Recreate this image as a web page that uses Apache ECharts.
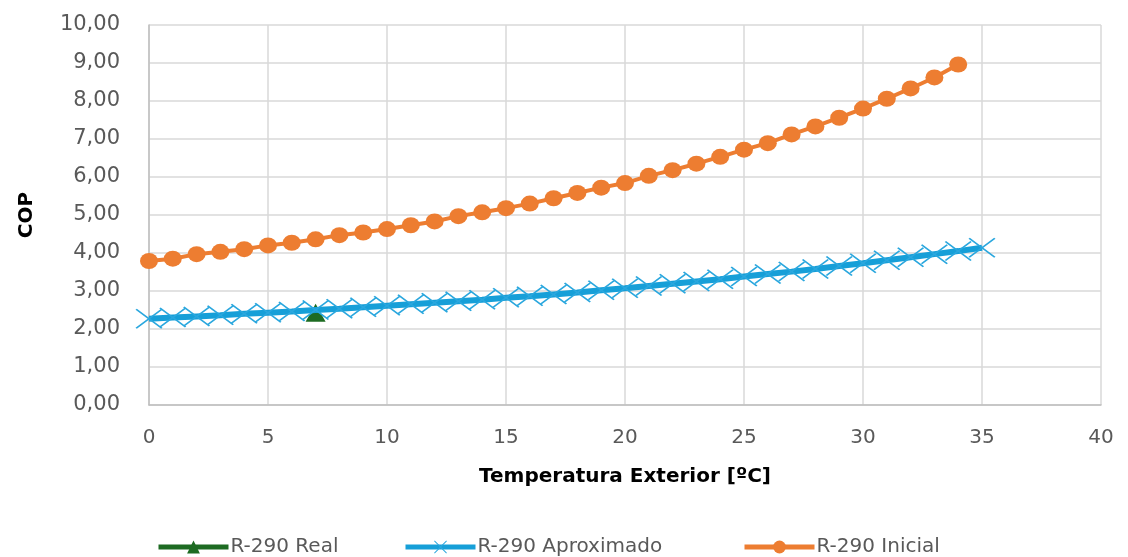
<!DOCTYPE html>
<html>
<head>
<meta charset="utf-8">
<script src="https://cdn.jsdelivr.net/npm/echarts@6/dist/echarts.min.js"></script>
<style>html,body{margin:0;padding:0;background:#fff}#c{width:1128px;height:557px}</style>
</head>
<body>
<div id="c"></div>
<script>
// ---- data ----
var tempReal = [7];
var copReal = [2.43];

var tempAprox = [0,1,2,3,4,5,6,7,8,9,10,11,12,13,14,15,16,17,18,19,20,21,22,23,24,25,26,27,28,29,30,31,32,33,34,35];
var copAprox = [2.27,2.30,2.33,2.36,2.40,2.43,2.46,2.50,2.53,2.57,2.61,2.65,2.69,2.73,2.77,2.82,2.86,2.91,2.96,3.02,3.07,3.13,3.19,3.25,3.31,3.38,3.45,3.51,3.58,3.66,3.73,3.81,3.89,3.97,4.05,4.14];

var tempInicial = [0,1,2,3,4,5,6,7,8,9,10,11,12,13,14,15,16,17,18,19,20,21,22,23,24,25,26,27,28,29,30,31,32,33,34];
var copInicial = [3.79,3.85,3.97,4.03,4.10,4.20,4.27,4.36,4.47,4.54,4.63,4.73,4.83,4.97,5.07,5.18,5.30,5.44,5.58,5.72,5.84,6.03,6.18,6.35,6.53,6.72,6.89,7.12,7.33,7.56,7.80,8.06,8.33,8.62,8.96];

var seriesNames = ['R-290 Real', 'R-290 Aproximado', 'R-290 Inicial'];
var xTitle = 'Temperatura Exterior [ºC]';
var yTitle = 'COP';

function pairs(xs, ys){ return xs.map(function(x,i){ return [x, ys[i]]; }); }

var crossPath = 'path://M0,5 L5,0 L50,45 L95,0 L100,5 L55,50 L100,95 L95,100 L50,55 L5,100 L0,95 L45,50 Z';
var FONT = 'DejaVu Sans';
var GREEN = '#1d6b22', BLUE = '#169fd8', ORANGE = '#ed7d31';

function legendAt(name, left){
  return {
    data:[name], left:left, top:537, padding:0, itemWidth:70, itemHeight:16, itemGap:10,
    lineStyle:{width:5},
    textStyle:{fontFamily:FONT, fontSize:20, color:'#595959', padding:[0,0,0,-3]}
  };
}

var chart = echarts.init(document.getElementById('c'), null, {renderer:'canvas'});
chart.setOption({
  animation:false,
  backgroundColor:'#ffffff',
  grid:{left:149, right:27, top:25, bottom:152, containLabel:false},
  legend:[legendAt(seriesNames[0],156), legendAt(seriesNames[1],403), legendAt(seriesNames[2],742)],
  xAxis:{
    type:'value', min:0, max:40, interval:5,
    name:xTitle, nameLocation:'middle', nameGap:62,
    nameTextStyle:{fontFamily:FONT, fontSize:20, fontWeight:'bold', color:'#000'},
    axisLine:{show:true, onZero:false, lineStyle:{color:'#bfbfbf', width:1.5}},
    axisTick:{show:false},
    axisLabel:{fontFamily:FONT, fontSize:20, color:'#595959', margin:23},
    splitLine:{show:true, lineStyle:{color:'#d9d9d9', width:1.5}}
  },
  yAxis:{
    type:'value', min:0, max:10, interval:1,
    name:yTitle, nameLocation:'middle', nameGap:112, nameRotate:90,
    nameTextStyle:{fontFamily:FONT, fontSize:20, fontWeight:'bold', color:'#000'},
    axisLine:{show:true, lineStyle:{color:'#bfbfbf', width:1.5}},
    axisTick:{show:false},
    axisLabel:{fontFamily:FONT, fontSize:21, color:'#595959', margin:29,
      formatter:function(v){ return v.toFixed(2).replace('.', ','); }},
    splitLine:{show:true, lineStyle:{color:'#d9d9d9', width:1.5}}
  },
  series:[
    {
      name:seriesNames[0], type:'line', data:pairs(tempReal, copReal),
      symbol:'triangle', symbolSize:[20,18], showSymbol:true,
      lineStyle:{color:GREEN, width:5}, itemStyle:{color:GREEN}, z:2
    },
    {
      name:seriesNames[1], type:'line', data:pairs(tempAprox, copAprox),
      symbol:crossPath, symbolSize:[27,20], showSymbol:true, symbolKeepAspect:false,
      lineStyle:{color:BLUE, width:6}, itemStyle:{color:'#2aa7de'}, z:3
    },
    {
      name:seriesNames[2], type:'line', data:pairs(tempInicial, copInicial),
      symbol:'circle', symbolSize:[18,16], showSymbol:true,
      lineStyle:{color:ORANGE, width:4}, itemStyle:{color:ORANGE}, z:4
    }
  ]
});
</script>
</body>
</html>
